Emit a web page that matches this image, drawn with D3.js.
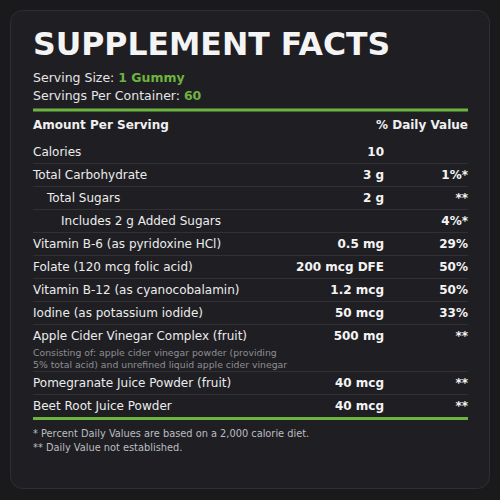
<!DOCTYPE html>
<html><head><meta charset="utf-8">
<script src="https://cdn.jsdelivr.net/npm/d3@7"></script>
<style>body{margin:0;background:#1a1a1d;}svg{display:block;font-family:"DejaVu Sans",sans-serif;}</style>
</head><body><svg id="c" width="500" height="500"></svg>
<script>
var names = ['Calories', 'Total Carbohydrate', 'Total Sugars', 'Includes 2 g Added Sugars',
  'Vitamin B-6 (as pyridoxine HCl)', 'Folate (120 mcg folic acid)', 'Vitamin B-12 (as cyanocobalamin)',
  'Iodine (as potassium iodide)', 'Apple Cider Vinegar Complex (fruit)',
  'Pomegranate Juice Powder (fruit)', 'Beet Root Juice Powder'];
var amounts = ['10', '3 g', '2 g', '', '0.5 mg', '200 mcg DFE', '1.2 mcg', '50 mcg', '500 mg', '40 mcg', '40 mcg'];
var dailyValues = ['', '1%*', '**', '4%*', '29%', '50%', '50%', '33%', '**', '**', '**'];
var indents = [0, 0, 1, 2, 0, 0, 0, 0, 0, 0, 0];
var rowHeights = [1, 1, 1, 1, 1, 1, 1, 1, 2, 1, 1];
var subNotes = { 8: ['Consisting of: apple cider vinegar powder (providing', '5% total acid) and unrefined liquid apple cider vinegar'] };
var footnotes = ['*  Percent Daily Values are based on a 2,000 calorie diet.', '** Daily Value not established.'];

var svg = d3.select('#c');
var green = '#6db33f', left = 33, right = 468, amtX = 384;

svg.append('rect').attr('x', 10.5).attr('y', 10.5).attr('width', 479).attr('height', 478)
  .attr('rx', 12).attr('fill', '#1f1f23').attr('stroke', '#2e2e33');

svg.append('text').attr('x', left).attr('y', 55).attr('fill', '#f4f4f4')
  .style('font-size', '31.5px').style('font-weight', 'bold').text('SUPPLEMENT FACTS');

var ss = svg.append('text').attr('x', left).attr('y', 82).attr('fill', '#e6e6e6').style('font-size', '12.5px');
ss.append('tspan').text('Serving Size: ');
ss.append('tspan').attr('fill', green).style('font-weight', 'bold').text('1 Gummy');
var sp = svg.append('text').attr('x', left).attr('y', 100).attr('fill', '#e6e6e6').style('font-size', '12.5px');
sp.append('tspan').text('Servings Per Container: ');
sp.append('tspan').attr('fill', green).style('font-weight', 'bold').text('60');

svg.append('rect').attr('x', left).attr('y', 108.5).attr('width', right - left).attr('height', 3).attr('fill', green);

svg.append('text').attr('x', left).attr('y', 129).attr('fill', '#f0f0f0')
  .style('font-size', '12px').style('font-weight', 'bold').text('Amount Per Serving');
svg.append('text').attr('x', right).attr('y', 129).attr('text-anchor', 'end').attr('fill', '#f0f0f0')
  .style('font-size', '12px').style('font-weight', 'bold').text('% Daily Value');

// row tops via cumulative heights
var unit = 23, top0 = 140;
var tops = [], acc = top0;
rowHeights.forEach(function(h, i) { tops.push(acc); acc += i === 8 ? 47 : unit * h; });

var rows = svg.selectAll('g.row').data(names).enter().append('g').attr('class', 'row')
  .attr('transform', function(d, i) { return 'translate(0,' + tops[i] + ')'; });

rows.append('text').attr('x', function(d, i) { return left + indents[i] * 14; }).attr('y', 16)
  .attr('fill', '#ececec').style('font-size', '12px').text(function(d) { return d; });
rows.append('text').attr('x', amtX).attr('y', 16).attr('text-anchor', 'end').attr('fill', '#f4f4f4')
  .style('font-size', '12px').style('font-weight', 'bold').text(function(d, i) { return amounts[i]; });
rows.append('text').attr('x', right).attr('y', 16).attr('text-anchor', 'end').attr('fill', '#f4f4f4')
  .style('font-size', '12px').style('font-weight', 'bold').text(function(d, i) { return dailyValues[i]; });
rows.each(function(d, i) {
  var n = subNotes[i];
  if (!n) return;
  d3.select(this).selectAll('text.sub').data(n).enter().append('text')
    .attr('x', left).attr('y', function(s, j) { return 32 + j * 12; })
    .attr('fill', '#8e8e92').style('font-size', '9.3px').text(function(s) { return s; });
});
rows.filter(function(d, i) { return i > 0; }).append('line')
  .attr('x1', left).attr('x2', right).attr('y1', 0.5).attr('y2', 0.5)
  .attr('stroke', '#303035').attr('stroke-width', 1);

svg.append('rect').attr('x', left).attr('y', acc).attr('width', right - left).attr('height', 3).attr('fill', green);

svg.selectAll('text.foot').data(footnotes).enter().append('text')
  .attr('x', left).attr('y', function(d, i) { return acc + 20 + i * 14; })
  .attr('fill', '#bdbdc0').style('font-size', '9.8px').text(function(d) { return d; });
</script></body></html>
